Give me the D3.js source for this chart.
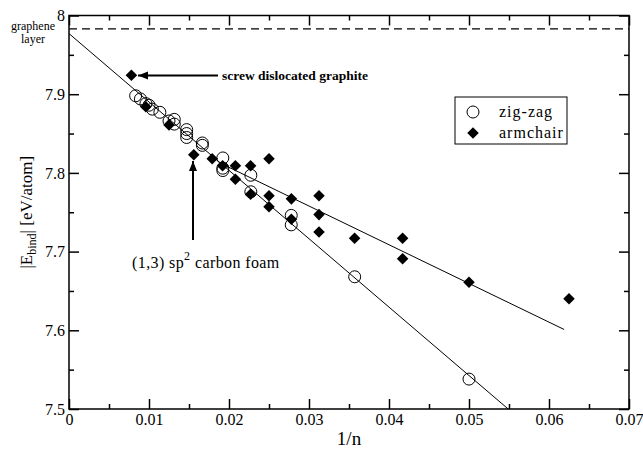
<!DOCTYPE html>
<html>
<head>
<meta charset="utf-8">
<script src="https://cdn.jsdelivr.net/npm/d3@7"></script>
<style>
  body { margin: 0; background: #fff; }
  text { font-family: "Liberation Serif", "DejaVu Serif", "Noto Serif", serif; fill: #000; }
</style>
</head>
<body>
<div id="graph"></div>
<script>
// zig-zag tubes: [1/n, |E_bind|]
var zigzag = [
  [0.00833, 7.898], [0.00893, 7.894], [0.00962, 7.888], [0.0100, 7.886],
  [0.01042, 7.881], [0.01136, 7.877], [0.0125, 7.866], [0.01316, 7.868],
  [0.01316, 7.862], [0.01471, 7.855], [0.01471, 7.850], [0.01471, 7.845],
  [0.01667, 7.838], [0.01667, 7.835], [0.01923, 7.819], [0.01923, 7.806],
  [0.01923, 7.803], [0.02273, 7.797], [0.02273, 7.776], [0.02778, 7.746],
  [0.02778, 7.734], [0.03571, 7.668], [0.05, 7.538]
];

// armchair tubes
var armchair = [
  [0.0078, 7.924], [0.0096, 7.884], [0.0125, 7.861], [0.0156, 7.823],
  [0.0179, 7.818], [0.0192, 7.809], [0.0208, 7.809], [0.0227, 7.809],
  [0.0208, 7.792], [0.0227, 7.773], [0.025, 7.818], [0.025, 7.771],
  [0.025, 7.757], [0.0278, 7.767], [0.0278, 7.741], [0.03125, 7.771],
  [0.03125, 7.747], [0.03125, 7.725], [0.0357, 7.717], [0.0417, 7.717],
  [0.0417, 7.691], [0.05, 7.661], [0.0625, 7.640]
];

// fitted lines
var zigzag_fit = [[0, 7.977], [0.0549, 7.5]];
var armchair_fit = [[0.0192, 7.811], [0.0619, 7.601]];

var graphene_level = 7.983;

var x_ticks = [0, 0.01, 0.02, 0.03, 0.04, 0.05, 0.06, 0.07];
var x_tick_labels = ["0", "0.01", "0.02", "0.03", "0.04", "0.05", "0.06", "0.07"];
var y_ticks = [7.5, 7.6, 7.7, 7.8, 7.9, 8.0];
var y_tick_labels = ["7.5", "7.6", "7.7", "7.8", "7.9", "8"];

var WIDTH = 643, HEIGHT = 449;
var LEFT = 69, RIGHT = 629, TOP = 15.5, BOTTOM = 409;
var FONT = '"Liberation Serif", "DejaVu Serif", "Noto Serif", serif';

var svg = d3.select("#graph").append("svg")
    .attr("width", WIDTH)
    .attr("height", HEIGHT)
    .attr("font-family", FONT);

var xscale = d3.scaleLinear().domain([0, 0.07]).range([LEFT, RIGHT]);
var yscale = d3.scaleLinear().domain([7.5, 8]).range([BOTTOM, TOP]);

var x_minor = d3.range(0.005, 0.07, 0.01);
var y_minor = d3.range(7.55, 8, 0.1);

// axes, ticks point inward
function add_axis(axis, tx, ty) {
  let g = svg.append("g").attr("transform", `translate(${tx},${ty})`).call(axis);
  g.attr("font-family", FONT).attr("font-size", 16);
  g.select(".domain").remove();
  g.selectAll("line").attr("stroke", "#000").attr("stroke-width", 1.5);
  return g;
}

var xa = add_axis(d3.axisBottom(xscale).tickValues(x_ticks)
    .tickFormat((d, i) => x_tick_labels[i]).tickSize(-10), 0, BOTTOM);
xa.selectAll("text").attr("y", 5).attr("dy", "0.71em");
add_axis(d3.axisBottom(xscale).tickValues(x_minor).tickFormat("").tickSize(-5), 0, BOTTOM);
add_axis(d3.axisTop(xscale).tickValues(x_ticks).tickFormat("").tickSize(-10), 0, TOP);
add_axis(d3.axisTop(xscale).tickValues(x_minor).tickFormat("").tickSize(-5), 0, TOP);

var ya = add_axis(d3.axisLeft(yscale).tickValues(y_ticks)
    .tickFormat((d, i) => y_tick_labels[i]).tickSize(-10), LEFT, 0);
ya.selectAll("text").attr("x", -4);
add_axis(d3.axisLeft(yscale).tickValues(y_minor).tickFormat("").tickSize(-5), LEFT, 0);
add_axis(d3.axisRight(yscale).tickValues(y_ticks).tickFormat("").tickSize(-10), RIGHT, 0);
add_axis(d3.axisRight(yscale).tickValues(y_minor).tickFormat("").tickSize(-5), RIGHT, 0);

// frame
svg.append("rect")
    .attr("x", LEFT).attr("y", TOP)
    .attr("width", RIGHT - LEFT).attr("height", BOTTOM - TOP)
    .attr("fill", "none").attr("stroke", "#000").attr("stroke-width", 1.5);

// graphene layer reference
svg.append("line")
    .attr("x1", xscale(0)).attr("x2", xscale(0.07))
    .attr("y1", yscale(graphene_level)).attr("y2", yscale(graphene_level))
    .attr("stroke", "#000").attr("stroke-width", 1.2)
    .attr("stroke-dasharray", "8,5");

svg.append("text").attr("x", 33).attr("y", 30)
    .attr("text-anchor", "middle").style("font-size", "12px").text("graphene");
svg.append("text").attr("x", 33).attr("y", 43)
    .attr("text-anchor", "middle").style("font-size", "12px").text("layer");

// fit lines
var line = d3.line().x(d => xscale(d[0])).y(d => yscale(d[1]));
[zigzag_fit, armchair_fit].forEach(function (fit) {
  svg.append("path").datum(fit)
      .attr("d", line)
      .attr("fill", "none").attr("stroke", "#000").attr("stroke-width", 1);
});

// points
var diamond = d3.symbol().type(d3.symbolDiamond2).size(85);

svg.selectAll("circle_data")
    .data(zigzag).enter()
    .append("circle")
    .attr("cx", d => xscale(d[0]))
    .attr("cy", d => yscale(d[1]))
    .attr("r", 6)
    .attr("fill", "none").attr("stroke", "#000").attr("stroke-width", 1);

svg.selectAll("diamond_data")
    .data(armchair).enter()
    .append("path")
    .attr("d", diamond)
    .attr("transform", d => `translate(${xscale(d[0])},${yscale(d[1])})`)
    .attr("fill", "#000");

// arrows (heads drawn as paths)
function arrow(x1, y1, x2, y2) {
  svg.append("line")
      .attr("x1", x1).attr("y1", y1).attr("x2", x2).attr("y2", y2)
      .attr("stroke", "#000").attr("stroke-width", 2);
  let ang = Math.atan2(y2 - y1, x2 - x1) * 180 / Math.PI;
  svg.append("path")
      .attr("d", "M0,0 L10,-4 L10,4 Z")
      .attr("transform", `translate(${x1},${y1}) rotate(${ang})`)
      .attr("fill", "#000");
}
arrow(138, 75.5, 218, 75.5);
svg.append("text").attr("x", 222).attr("y", 80)
    .style("font-size", "13.5px").style("font-weight", "bold")
    .text("screw dislocated graphite");

arrow(193, 161, 193, 240);
var foam = svg.append("text").attr("x", 132).attr("y", 268)
    .style("font-size", "16px").style("letter-spacing", "0.4px");
foam.append("tspan").text("(1,3) sp");
foam.append("tspan").attr("dy", -8).style("font-size", "12px").text("2");
foam.append("tspan").attr("dy", 8).text(" carbon foam");

// legend
svg.append("rect")
    .attr("x", 455).attr("y", 97).attr("width", 112).attr("height", 47)
    .attr("fill", "#fff").attr("stroke", "#000").attr("stroke-width", 1);
svg.append("circle").attr("cx", 473).attr("cy", 112).attr("r", 6)
    .attr("fill", "none").attr("stroke", "#000");
svg.append("path").attr("d", diamond).attr("transform", "translate(473,133)").attr("fill", "#000");
svg.append("text").attr("x", 499).attr("y", 117).style("font-size", "16px")
    .style("letter-spacing", "1px").text("zig-zag");
svg.append("text").attr("x", 499).attr("y", 138).style("font-size", "16px")
    .style("letter-spacing", "1px").text("armchair");

// axis titles
svg.append("text").attr("x", (LEFT + RIGHT) / 2).attr("y", 445)
    .attr("text-anchor", "middle").style("font-size", "19px").text("1/n");

var ylab = svg.append("text")
    .attr("transform", `translate(32,${(TOP + BOTTOM) / 2}) rotate(-90)`)
    .attr("text-anchor", "middle").style("font-size", "17px");
ylab.append("tspan").text("|E");
ylab.append("tspan").attr("dy", 4).style("font-size", "12px").text("bind");
ylab.append("tspan").attr("dy", -4).text("| [eV/atom]");
</script>
</body>
</html>
